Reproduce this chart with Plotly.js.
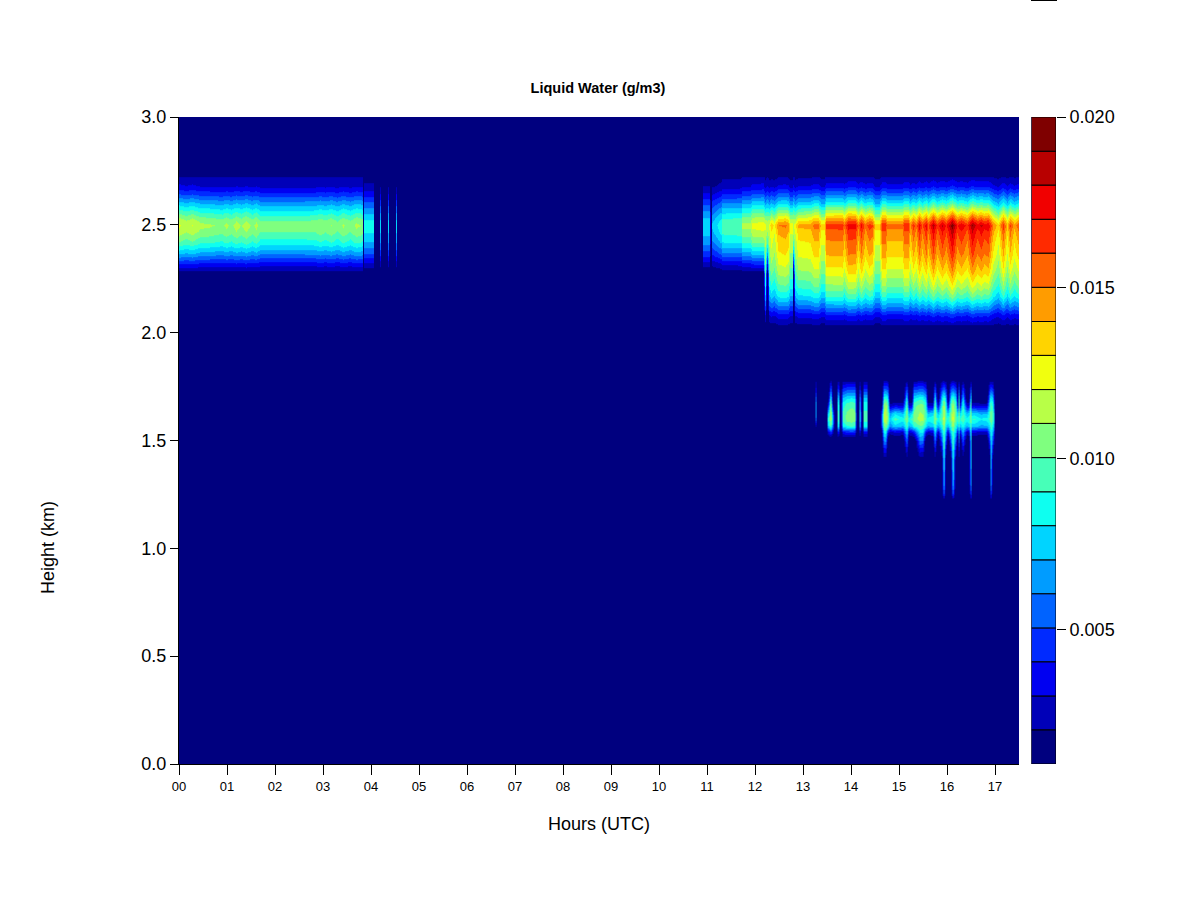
<!DOCTYPE html>
<html><head><meta charset="utf-8">
<script src="https://cdn.plot.ly/plotly-3.0.1.min.js"></script>
<style>html,body{margin:0;padding:0;background:#fff}#c{width:1200px;height:900px}</style>
</head><body><div id="c"></div>
<script>
// Colour bins of the legend (g/m3)
const levelEdges=[0.00108,0.00208,0.00307,0.00407,0.00506,0.00606,0.00705,0.00805,0.00904,0.01004,0.01104,0.01203,0.01303,0.01402,0.01502,0.01602,0.01701,0.01801,0.01900,0.02000];
const levelColors=['#00007F','#0000B8','#0000F1','#002AFF','#0063FF','#009CFF','#00D4FF','#0EFFF0','#47FFB8','#7FFF7F','#B8FF47','#F1FF0E','#FFD400','#FF9C00','#FF6300','#FF2A00','#F10000','#B80000','#7F0000'];
const hourLabels=['00','01','02','03','04','05','06','07','08','09','10','11','12','13','14','15','16','17'];
const hourTicks=[0,1,2,3,4,5,6,7,8,9,10,11,12,13,14,15,16,17];
const heightTicks=[0,0.5,1,1.5,2,2.5,3];
const legendTicks=[0.005,0.010,0.015,0.020];

// Upper cloud layer: height grid, profile shape per regime, and per-column peak at 2.5 km
const upperHeights=[2.02,2.04,2.08,2.12,2.17,2.22,2.27,2.29,2.32,2.37,2.42,2.47,2.50,2.52,2.56,2.60,2.64,2.68,2.72,2.73];
const upperShapeThin=[0,0,0,0,0,0,0,.20,.33,.60,.82,.96,1,.95,.80,.62,.42,.27,.20,0];
const upperShapeDeep=[0,.14,.24,.38,.55,.66,.74,.77,.80,.86,.90,.95,1,.90,.72,.52,.36,.22,.14,0];
const upperHours=[0,.15,.27,.44,.62,.90,.98,1.08,1.19,1.29,1.40,1.52,1.60,1.69,2.52,2.83,2.94,3.04,3.17,3.29,3.42,3.56,3.69,3.79,3.82,3.84,3.86,4.04,4.06,4.17,4.19,4.21,4.33,4.35,4.37,4.50,4.52,4.54,10.90,10.92,11.05,11.08,11.10,11.30,11.32,11.70,11.72,11.90,11.93,12.16,12.17,12.21,12.25,12.29,12.33,12.40,12.48,12.62,12.69,12.73,12.77,12.79,12.83,12.90,13.15,13.23,13.31,13.38,13.44,13.48,13.81,13.85,13.94,14.08,14.14,14.21,14.29,14.38,14.44,14.50,14.58,14.65,14.71,14.75,15.06,15.10,15.19,15.23,15.29,15.35,15.42,15.48,15.56,15.61,15.71,15.79,15.90,15.98,16.10,16.21,16.29,16.42,16.52,16.63,16.71,16.77,16.85,16.96,17.06,17.17,17.25,17.31,17.40,17.50];
const upperPeak=[.0122,.0116,.0121,.0113,.0112,.0108,.0113,.0108,.0115,.0110,.0116,.0108,.0114,.0105,.0105,.0106,.0110,.0106,.0111,.0104,.0112,.0105,.0113,.0110,.0108,0,.0085,.0085,0,0,.0075,0,0,.0075,0,0,.0075,0,0,.0078,.0078,0,.0072,.0088,.0098,.0100,.0113,.0113,.0123,.0125,.0125,.0125,.0115,.0125,.0137,.0128,.0150,.0153,.0148,.0128,.0128,.0120,.0128,.0143,.0145,.0155,.0155,.0135,.0135,.0165,.0166,.0155,.0176,.0175,.0155,.0174,.0155,.0166,.0162,.0135,.0135,.0168,.0168,.0155,.0155,.0168,.0168,.0150,.0166,.0155,.0176,.0160,.0176,.0160,.0186,.0165,.0182,.0170,.0196,.0170,.0179,.0166,.0191,.0175,.0183,.0175,.0179,.0150,.0135,.0166,.0140,.0162,.0145,.0160];
const upperDeepFrom=12.21; // first deep column; the two notch columns below stay thin
const upperNotches=[12.25,12.79];

// Lower cloud layer: height grid, profile shapes, and per-column shape and peak
const lowerHeights=[1.22,1.24,1.26,1.30,1.38,1.41,1.43,1.46,1.50,1.52,1.54,1.57,1.60,1.63,1.66,1.68,1.70,1.74,1.77,1.79];
const lowerShapes={
 A:[0,0,0,0,0,0,0,0,0,.22,.40,.85,1,.97,.92,.85,.75,.45,.25,0],
 B:[0,0,0,0,0,0,0,0,0,.20,.35,.82,1,.82,.38,.20,0,0,0,0],
 C:[0,0,0,0,0,0,.20,.32,.52,.62,.72,.87,1,.97,.92,.85,.75,.45,.25,0],
 D:[0,.30,.45,.60,.68,.70,.72,.74,.76,.78,.80,.90,1,.97,.92,.85,.75,.45,.25,0],
 E:[0,0,0,0,0,0,0,0,0,0,0,.35,.90,1,1,.95,.85,.50,.35,0]
};
const lowerHours=[13.25,13.27,13.29,13.50,13.52,13.57,13.62,13.65,13.70,13.72,13.75,13.77,13.79,13.82,13.90,14.02,14.08,14.11,14.15,14.18,14.22,14.24,14.27,14.33,14.35,14.60,14.63,14.67,14.72,14.77,14.81,14.90,15.02,15.08,15.15,15.19,15.27,15.31,15.42,15.50,15.56,15.60,15.69,15.75,15.81,15.88,15.92,15.96,16.02,16.08,16.11,16.17,16.21,16.24,16.27,16.33,16.40,16.45,16.48,16.52,16.56,16.69,16.83,16.88,16.91,16.94,16.98,17.00];
const lowerKind='AEAABAB'.split('').concat('AAAAAAAAAAAAAAAAAAA'.split(''),'BCCABBBBCBBACCABBCB'.split(''),'CDCBCDC'.split(''),'BCBCBBDBBBBCDCBA'.split(''));
const lowerPeak=[0,.0065,0,0,.0085,.0115,.0070,0,0,.0095,.0090,0,0,.0095,.0105,.0108,.0105,0,0,.0085,0,0,.0095,.0095,0,0,.0060,.0115,.0120,.0105,.0075,.0095,.0088,.0085,.0108,.0085,.0095,.0105,.0115,.0113,.0095,.0085,.0090,.0110,.0085,.0100,.0122,.0095,.0090,.0105,.0122,.0100,.0090,.0105,.0090,.0098,.0085,.0090,.0105,.0090,.0092,.0082,.0085,.0095,.0105,.0095,.0060,0];

// Rows of the two grids
const upperZ=upperHeights.map((h,r)=>upperHours.map((t,c)=>{
  const deep=t>=upperDeepFrom && !upperNotches.includes(t);
  return upperPeak[c]*(deep?upperShapeDeep[r]:upperShapeThin[r]);
}));
const lowerZ=lowerHeights.map((h,r)=>lowerHours.map((t,c)=>lowerPeak[c]*lowerShapes[lowerKind[c]][r]));

const n=levelColors.length, lo=levelEdges[0], hi=levelEdges[n];
const stepped=[];
levelColors.forEach((col,i)=>{stepped.push([i/n,col]);stepped.push([(i+1)/n,col]);});
const heatBase={type:'heatmap',zsmooth:'best',colorscale:stepped,zauto:false,zmin:lo,zmax:hi,showscale:false,hoverinfo:'skip'};
const font={family:'"Liberation Sans", Arial, sans-serif',color:'#000'};
const W=1200,H=900;
const traces=[
 Object.assign({},heatBase,{x:upperHours,y:upperHeights,z:upperZ}),
 Object.assign({},heatBase,{x:lowerHours,y:lowerHeights,z:lowerZ}),
 {type:'bar',xaxis:'x2',yaxis:'y2',x:levelColors.map(()=>0),width:levelColors.map(()=>1),
  base:levelEdges.slice(0,n),y:levelEdges.slice(1).map((e,i)=>e-levelEdges[i]),
  marker:{color:levelColors,line:{color:'#000',width:1}},hoverinfo:'skip',showlegend:false}
];
const layout={width:W,height:H,margin:{l:0,r:0,t:0,b:0},paper_bgcolor:'#fff',plot_bgcolor:'#00007F',showlegend:false,barmode:'overlay',
 font:Object.assign({},font,{size:18}),
 title:{text:'<b>Liquid Water (g/m3)</b>',font:Object.assign({},font,{size:14.5}),x:598/W,xref:'paper',xanchor:'center',y:1-88/H,yref:'paper',yanchor:'middle'},
 xaxis:{domain:[179/W,1019/W],range:[0,17.5],tickmode:'array',tickvals:hourTicks,ticktext:hourLabels,ticks:'outside',ticklen:10,tickcolor:'#000',tickwidth:1,
  showline:true,linecolor:'#000',linewidth:1,showgrid:false,zeroline:false,tickfont:Object.assign({},font,{size:13}),
  title:{text:'Hours (UTC)',font:Object.assign({},font,{size:18}),standoff:24}},
 yaxis:{domain:[(H-764)/H,(H-117)/H],range:[0,3],tickmode:'array',tickvals:heightTicks,tickformat:'.1f',ticks:'outside',ticklen:8,tickcolor:'#000',tickwidth:1,
  showline:true,linecolor:'#000',linewidth:1,showgrid:false,zeroline:false,tickfont:Object.assign({},font,{size:18})},
 xaxis2:{domain:[1031.5/W,1056/W],range:[-0.5,0.5],visible:false,anchor:'y2',fixedrange:true},
 yaxis2:{domain:[(H-764)/H,(H-117)/H],range:[lo,hi],anchor:'x2',side:'right',tickmode:'array',tickvals:legendTicks,tickformat:'.3f',ticks:'outside',ticklen:9,tickcolor:'#000',tickwidth:1,
  showline:false,showgrid:false,zeroline:false,tickfont:Object.assign({},font,{size:18})},
 annotations:[{text:'Height (km)',textangle:-90,xref:'paper',yref:'paper',x:48/W,y:1-548/H,showarrow:false,xanchor:'center',yanchor:'middle',font:Object.assign({},font,{size:18})}],
 shapes:[{type:'line',xref:'paper',yref:'paper',x0:1031/W,x1:1057/W,y0:1-0.5/H,y1:1-0.5/H,line:{color:'#000',width:1}}]
};
Plotly.newPlot('c',traces,layout,{displayModeBar:false,staticPlot:true});
</script></body></html>
